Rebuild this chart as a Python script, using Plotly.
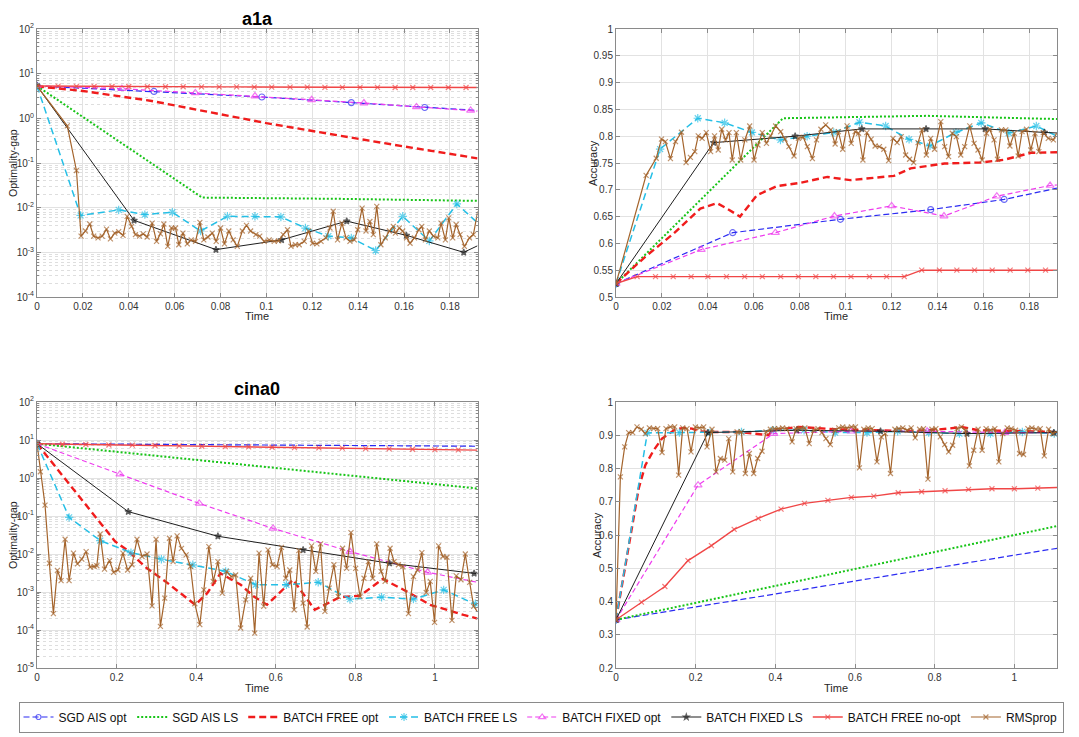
import plotly.graph_objects as go

# The page adds an 8px body margin, so the figure is 8px smaller than the window
OFF = 8
W, H = 1079 - OFF, 737 - OFF

# ------------------------------------------------------------------
# DATA
# ------------------------------------------------------------------
SERIES = ["SGD AIS opt", "SGD AIS LS", "BATCH FREE opt", "BATCH FREE LS",
          "BATCH FIXED opt", "BATCH FIXED LS", "BATCH FREE no-opt", "RMSprop"]

# ---------- a1a : optimality gap (log) ----------
A1A_GAP_SGD_OPT_T = [0, 0.051, 0.098, 0.137, 0.169, 0.192]
A1A_GAP_SGD_OPT = [5.3, 4.0, 3.0, 2.25, 1.75, 1.5]
A1A_GAP_SGD_LS_T = [0, 0.072, 0.13, 0.192]
A1A_GAP_SGD_LS = [5.3, 0.0168, 0.0158, 0.0142]
A1A_GAP_FREE_OPT_T = [0, 0.01, 0.02, 0.05, 0.1, 0.15, 0.192]
A1A_GAP_FREE_OPT = [5.2, 4.6, 4.1, 2.45, 0.78, 0.285, 0.127]
A1A_GAP_FREE_LS_T = [0, 0.019, 0.0356, 0.047, 0.059, 0.0713, 0.083, 0.095, 0.1063, 0.117,
                     0.127, 0.137, 0.1476, 0.1594, 0.171, 0.183, 0.192]
A1A_GAP_FREE_LS = [5.3, 0.0067, 0.0089, 0.0070, 0.0079, 0.0030, 0.0064, 0.0064, 0.0062, 0.0035,
                   0.0023, 0.0021, 0.0011, 0.0064, 0.0018, 0.0121, 0.0046]
A1A_GAP_FIXED_OPT_T = [0, 0.037, 0.069, 0.095, 0.1197, 0.1425, 0.1654, 0.189, 0.192]
A1A_GAP_FIXED_OPT = [5.3, 4.6, 3.7, 3.15, 2.6, 2.2, 1.8, 1.5, 1.45]
A1A_GAP_FIXED_LS_T = [0, 0.0423, 0.078, 0.1066, 0.135, 0.161, 0.186, 0.192]
A1A_GAP_FIXED_LS = [5.3, 0.0052, 0.00115, 0.0019, 0.0050, 0.0024, 0.0010, 0.0014]
A1A_NOOPT_T = [0, 0.0092, 0.0172, 0.0249, 0.0327, 0.0400, 0.0481, 0.0560, 0.0637, 0.0717,
               0.0794, 0.0870, 0.0947, 0.1023, 0.1103, 0.1178, 0.1255, 0.1331, 0.1408, 0.1484,
               0.1561, 0.1638, 0.1716, 0.1793, 0.1870, 0.192]
A1A_GAP_NOOPT = [5.3, 5.25, 5.2, 5.2, 5.15, 5.15, 5.1, 5.1, 5.1, 5.05,
                 5.05, 5.05, 5.0, 5.0, 5.0, 5.0, 4.95, 4.95, 4.95, 4.95,
                 4.9, 4.9, 4.9, 4.9, 4.9, 4.9]
A1A_RMS_T = [0, 0.0132, 0.0172, 0.0192, 0.0211, 0.0230, 0.0247, 0.0266, 0.0284, 0.0303,
             0.0320, 0.0339, 0.0356, 0.0375, 0.0393, 0.0412, 0.0429, 0.0447, 0.0463, 0.0480,
             0.0502, 0.0521, 0.0538, 0.0553, 0.0570, 0.0586, 0.0604, 0.0618, 0.0636, 0.0655,
             0.0672, 0.0691, 0.0710, 0.0727, 0.0745, 0.0764, 0.0781, 0.0800, 0.0817, 0.0836,
             0.0855, 0.0873, 0.0895, 0.0913, 0.0931, 0.0954, 0.0971, 0.0990, 0.1012, 0.1034,
             0.1053, 0.1073, 0.1092, 0.1107, 0.1126, 0.1143, 0.1165, 0.1184, 0.1201, 0.1220,
             0.1238, 0.1259, 0.1277, 0.1291, 0.1310, 0.1329, 0.1347, 0.1364, 0.1383, 0.1398,
             0.1417, 0.1434, 0.1451, 0.1466, 0.1481, 0.1499, 0.1518, 0.1536, 0.1553, 0.1562,
             0.1579, 0.1594, 0.1611, 0.1626, 0.1645, 0.1664, 0.1677, 0.1693, 0.1710, 0.1728,
             0.1747, 0.1761, 0.1780, 0.1795, 0.1812, 0.1827, 0.1844, 0.1863, 0.1885, 0.1902,
             0.1921]
A1A_GAP_RMS = [5.3, 0.68, 0.068, 0.0023, 0.0030, 0.0043, 0.0023, 0.0021, 0.0023, 0.0033,
               0.0020, 0.0027, 0.0029, 0.0024, 0.0064, 0.0038, 0.0025, 0.0023, 0.0026, 0.0022,
               0.0045, 0.00176, 0.0026, 0.0043, 0.00136, 0.0035, 0.0035, 0.00148, 0.0027, 0.00155,
               0.0019, 0.00176, 0.0047, 0.0019, 0.0022, 0.0027, 0.00176, 0.0035, 0.00155, 0.0030,
               0.0019, 0.00136, 0.0030, 0.0040, 0.0030, 0.0025, 0.0023, 0.00176, 0.0019, 0.00176,
               0.0018, 0.0025, 0.0032, 0.00136, 0.00148, 0.00148, 0.00176, 0.0030, 0.0016, 0.00155,
               0.00176, 0.0021, 0.0035, 0.0083, 0.0019, 0.0045, 0.0021, 0.00176, 0.0019, 0.0032,
               0.0098, 0.0030, 0.0049, 0.0025, 0.0107, 0.00148, 0.0021, 0.0030, 0.0038, 0.0027,
               0.0035, 0.0030, 0.0021, 0.0016, 0.0021, 0.0032, 0.0038, 0.0019, 0.0030, 0.0023,
               0.0021, 0.0045, 0.0019, 0.0059, 0.0021, 0.0042, 0.0025, 0.00136, 0.0021, 0.0025,
               0.0083]

# ---------- a1a : accuracy ----------
A1A_ACC_SGD_OPT_T = [0, 0.0508, 0.0977, 0.137, 0.169, 0.192]
A1A_ACC_SGD_OPT = [0.525, 0.62, 0.645, 0.663, 0.682, 0.703]
A1A_ACC_SGD_LS_T = [0, 0.0727, 0.1356, 0.192]
A1A_ACC_SGD_LS = [0.525, 0.8335, 0.838, 0.832]
A1A_ACC_FREE_OPT_T = [0, 0.0127, 0.025, 0.0367, 0.044, 0.0483, 0.054, 0.0614, 0.0701, 0.0803,
                      0.092, 0.102, 0.121, 0.1283, 0.143, 0.159, 0.169, 0.1807, 0.192]
A1A_ACC_FREE_OPT = [0.525, 0.575, 0.618, 0.665, 0.675, 0.665, 0.65, 0.69, 0.707, 0.713,
                    0.724, 0.718, 0.726, 0.74, 0.749, 0.751, 0.756, 0.769, 0.77]
A1A_ACC_FREE_LS_T = [0, 0.0192, 0.0356, 0.0473, 0.0592, 0.0716, 0.0832, 0.0948, 0.106, 0.1174,
                     0.1276, 0.1367, 0.148, 0.159, 0.171, 0.183, 0.192]
A1A_ACC_FREE_LS = [0.525, 0.776, 0.8335, 0.825, 0.807, 0.793, 0.80, 0.807, 0.826, 0.819,
                   0.794, 0.782, 0.807, 0.825, 0.806, 0.819, 0.80]
A1A_ACC_FIXED_OPT_T = [0, 0.0371, 0.0694, 0.0951, 0.12, 0.1428, 0.1658, 0.189, 0.192]
A1A_ACC_FIXED_OPT = [0.525, 0.5885, 0.62, 0.651, 0.67, 0.651, 0.688, 0.708, 0.709]
A1A_ACC_FIXED_LS_T = [0, 0.0425, 0.078, 0.107, 0.135, 0.1607, 0.1865, 0.192]
A1A_ACC_FIXED_LS = [0.525, 0.788, 0.80, 0.8136, 0.8136, 0.8136, 0.807, 0.806]
A1A_ACC_NOOPT = [0.525, 0.538, 0.538, 0.538, 0.538, 0.538, 0.538, 0.538, 0.538, 0.538,
                 0.538, 0.538, 0.538, 0.538, 0.538, 0.538, 0.538, 0.55, 0.55, 0.55,
                 0.55, 0.55, 0.55, 0.55, 0.55, 0.55]
A1A_ACC_RMS_T = [0, 0.0131, 0.0175, 0.0198, 0.0215, 0.0237, 0.0259, 0.0285, 0.0305, 0.0324,
                 0.0343, 0.0358, 0.0375, 0.0393, 0.0412, 0.0429, 0.0445, 0.0460, 0.0477, 0.0492,
                 0.0506, 0.0524, 0.0543, 0.0561, 0.0582, 0.0601, 0.0618, 0.0637, 0.0655, 0.0673,
                 0.0695, 0.0717, 0.0736, 0.0753, 0.0775, 0.0794, 0.0815, 0.0833, 0.0855, 0.0873,
                 0.0892, 0.0913, 0.0935, 0.0954, 0.0968, 0.0987, 0.1006, 0.1024, 0.1041, 0.1056,
                 0.1075, 0.1092, 0.1111, 0.1128, 0.1147, 0.1166, 0.1187, 0.1206, 0.1224, 0.1242,
                 0.1261, 0.1278, 0.1296, 0.1315, 0.1332, 0.1351, 0.1370, 0.1387, 0.1414, 0.1431,
                 0.1448, 0.1464, 0.1482, 0.1501, 0.1518, 0.1540, 0.1559, 0.1576, 0.1594, 0.1613,
                 0.1627, 0.1646, 0.1661, 0.1678, 0.1697, 0.1715, 0.1734, 0.1751, 0.1768, 0.1787,
                 0.1806, 0.1824, 0.1841, 0.1860, 0.1882, 0.1904, 0.1918]
A1A_ACC_RMS = [0.525, 0.727, 0.7588, 0.7944, 0.790, 0.7582, 0.790, 0.8074, 0.7506, 0.7606,
               0.7712, 0.8005, 0.796, 0.8067, 0.7712, 0.8005, 0.7743, 0.8129, 0.793, 0.8067,
               0.7556, 0.8067, 0.7556, 0.793, 0.819, 0.7556, 0.7836, 0.8067, 0.7867, 0.8005,
               0.819, 0.8086, 0.7944, 0.7805, 0.763, 0.796, 0.798, 0.7805, 0.7582, 0.793,
               0.8129, 0.821, 0.8117, 0.7855, 0.8086, 0.7756, 0.8192, 0.7867, 0.8086, 0.8055,
               0.7556, 0.8067, 0.7944, 0.7817, 0.7805, 0.7756, 0.7544, 0.796, 0.788, 0.7993,
               0.7649, 0.757, 0.7506, 0.788, 0.8117, 0.7649, 0.796, 0.7756, 0.8273, 0.7805,
               0.7618, 0.8055, 0.7993, 0.7649, 0.7805, 0.8192, 0.7867, 0.7743, 0.7556, 0.8055,
               0.813, 0.793, 0.757, 0.8117, 0.8117, 0.7817, 0.8055, 0.763, 0.8086, 0.813,
               0.7743, 0.8055, 0.7712, 0.8067, 0.796, 0.793, 0.8055]

# ---------- cina0 : optimality gap (log) ----------
CINA_GAP_SGD_OPT_T = [0, 1.107]
CINA_GAP_SGD_OPT = [8.0, 6.85]
CINA_GAP_SGD_LS_T = [0, 1.107]
CINA_GAP_SGD_LS = [8.0, 0.53]
CINA_GAP_FREE_OPT_T = [0, 0.05, 0.1, 0.15, 0.1966, 0.226, 0.25, 0.2765, 0.3227, 0.3605,
                       0.398, 0.4277, 0.461, 0.512, 0.545, 0.578, 0.6436, 0.698, 0.761, 0.812,
                       0.869, 0.921, 0.988, 1.072, 1.107]
CINA_GAP_FREE_OPT = [8.0, 1.8, 0.4, 0.09, 0.0212, 0.0128, 0.0076, 0.0042, 0.0019, 0.00093,
                     0.00046, 0.00093, 0.0031, 0.00155, 0.00076, 0.00046, 0.0021, 0.00034, 0.00073, 0.0008,
                     0.0022, 0.00115, 0.00046, 0.00025, 0.0002]
CINA_GAP_FREE_LS_T = [0, 0.0807, 0.159, 0.2361, 0.3126, 0.3916, 0.474, 0.5496, 0.6268, 0.7067,
                      0.7865, 0.866, 0.946, 1.022, 1.1016, 1.107]
CINA_GAP_FREE_LS = [8.0, 0.092, 0.0225, 0.0109, 0.0073, 0.0052, 0.0035, 0.00155, 0.00155, 0.0018,
                    0.00065, 0.00073, 0.00065, 0.00114, 0.00049, 0.00045]
CINA_GAP_FIXED_OPT_T = [0, 0.2084, 0.4076, 0.5932, 0.7865, 0.9815, 1.107]
CINA_GAP_FIXED_OPT = [8.0, 1.26, 0.215, 0.047, 0.0116, 0.0033, 0.0018]
CINA_GAP_FIXED_LS_T = [0, 0.2294, 0.4546, 0.6688, 0.8857, 1.0985, 1.107]
CINA_GAP_FIXED_LS = [8.0, 0.13, 0.0293, 0.0128, 0.0057, 0.0031, 0.0030]
CINA_NOOPT_T = [0, 0.0639, 0.1227, 0.1807, 0.2395, 0.2966, 0.3571, 0.4143, 0.4731, 0.5319,
                0.5908, 0.6471, 0.7084, 0.7672, 0.8260, 0.8849, 0.9437, 1.0000, 1.0588, 1.107]
CINA_GAP_NOOPT = [8.0, 7.75, 7.6, 7.4, 7.3, 7.15, 7.0, 6.85, 6.7, 6.6,
                  6.45, 6.3, 6.2, 6.1, 5.95, 5.85, 5.7, 5.6, 5.5, 5.4]
CINA_GAP_RMS_T = [0, 0.0084, 0.0202, 0.0311, 0.0412, 0.0513, 0.0605, 0.0706, 0.0807, 0.0916,
                  0.1017, 0.1126, 0.1235, 0.1336, 0.1437, 0.1504, 0.1588, 0.1697, 0.1824, 0.1924,
                  0.2034, 0.2160, 0.2277, 0.2387, 0.2513, 0.2639, 0.2765, 0.2891, 0.2992, 0.3101,
                  0.3210, 0.3328, 0.3420, 0.3521, 0.3630, 0.3748, 0.3857, 0.3966, 0.4092, 0.4193,
                  0.4319, 0.4429, 0.4546, 0.4655, 0.4765, 0.4882, 0.4992, 0.5118, 0.5244, 0.5370,
                  0.5471, 0.5580, 0.5697, 0.5806, 0.5915, 0.6033, 0.6142, 0.6251, 0.6352, 0.6462,
                  0.6579, 0.6688, 0.6789, 0.6899, 0.7008, 0.7126, 0.7235, 0.7344, 0.7462, 0.7571,
                  0.7680, 0.7781, 0.7890, 0.8008, 0.8117, 0.8218, 0.8328, 0.8437, 0.8537, 0.8647,
                  0.8748, 0.8873, 0.8974, 0.9083, 0.9193, 0.9336, 0.9461, 0.9563, 0.9672, 0.9781,
                  0.9882, 0.9991, 1.0092, 1.0201, 1.0302, 1.0428, 1.0537, 1.0655, 1.0764, 1.0873,
                  1.0974, 1.107]
CINA_GAP_RMS = [8.0, 1.46, 0.194, 0.0057, 0.00027, 0.0037, 0.0020, 0.0244, 0.0020, 0.0105,
                0.0055, 0.0073, 0.0116, 0.0045, 0.0047, 0.0049, 0.0336, 0.0040, 0.0067, 0.0033,
                0.0038, 0.0105, 0.0038, 0.0052, 0.0244, 0.0086, 0.0100, 0.00043, 0.0244, 0.000124,
                0.00069, 0.0259, 0.0063, 0.0299, 0.0141, 0.0095, 0.0047, 0.00049, 0.000138, 0.00114,
                0.0157, 0.0019, 0.0063, 0.00093, 0.0035, 0.00255, 0.0028, 0.000113, 0.00062, 0.0023,
                0.000083, 0.0105, 0.00042, 0.0128, 0.0052, 0.0047, 0.0150, 0.0023, 0.0038, 0.00034,
                0.0123, 0.00051, 0.00012, 0.0163, 0.0035, 0.0184, 0.00031, 0.00126, 0.0052, 0.00076,
                0.0142, 0.0042, 0.0365, 0.0042, 0.00076, 0.0023, 0.0063, 0.0023, 0.0184, 0.0035,
                0.0019, 0.0142, 0.0063, 0.0052, 0.0047, 0.00027, 0.00255, 0.0038, 0.0109, 0.00097,
                0.0019, 0.000158, 0.0163, 0.0086, 0.0082, 0.000179, 0.00266, 0.0021, 0.0100, 0.0018,
                0.00042, 0.00030]

# ---------- cina0 : accuracy ----------
CINA_ACC_SGD_OPT_T = [0, 1.107]
CINA_ACC_SGD_OPT = [0.345, 0.56]
CINA_ACC_SGD_LS_T = [0, 1.107]
CINA_ACC_SGD_LS = [0.345, 0.627]
CINA_ACC_FREE_OPT_T = [0, 0.031, 0.057, 0.0736, 0.0946, 0.1155, 0.132, 0.149, 0.17, 0.191,
                       0.2075, 0.241, 0.308, 0.358, 0.383, 0.392, 0.459, 0.55, 0.65, 0.75,
                       0.835, 0.867, 0.91, 1.107]
CINA_ACC_FREE_OPT = [0.345, 0.555, 0.74, 0.81, 0.855, 0.89, 0.905, 0.918, 0.922, 0.92,
                     0.912, 0.91, 0.91, 0.902, 0.90, 0.915, 0.925, 0.918, 0.915, 0.912,
                     0.92, 0.925, 0.915, 0.91]
CINA_ACC_FREE_LS_T = [0, 0.0787, 0.159, 0.236, 0.315, 0.395, 0.472, 0.55, 0.63, 0.707,
                      0.785, 0.862, 0.94, 1.02, 1.1, 1.107]
CINA_ACC_FREE_LS = [0.345, 0.907, 0.908, 0.908, 0.91, 0.915, 0.915, 0.908, 0.908, 0.912,
                    0.908, 0.905, 0.905, 0.91, 0.905, 0.905]
CINA_ACC_FIXED_OPT_T = [0, 0.206, 0.396, 0.59, 0.781, 0.976, 1.107]
CINA_ACC_FIXED_OPT = [0.345, 0.75, 0.905, 0.912, 0.912, 0.908, 0.908]
CINA_ACC_FIXED_LS_T = [0, 0.231, 0.454, 0.664, 0.881, 1.099, 1.107]
CINA_ACC_FIXED_LS = [0.345, 0.908, 0.915, 0.912, 0.905, 0.908, 0.908]
CINA_ACC_NOOPT = [0.345, 0.398, 0.445, 0.523, 0.568, 0.617, 0.65, 0.678, 0.695, 0.704,
                  0.713, 0.717, 0.727, 0.73, 0.733, 0.737, 0.739, 0.739, 0.741, 0.743]
CINA_ACC_RMS_T = [0, 0.011, 0.0218, 0.0318, 0.0418, 0.0527, 0.0636, 0.0736, 0.0837, 0.0946,
                  0.1046, 0.1155, 0.1255, 0.1364, 0.1473, 0.1573, 0.1674, 0.1782, 0.1883, 0.1992,
                  0.2092, 0.2201, 0.2285, 0.241, 0.251, 0.262, 0.273, 0.283, 0.293, 0.304,
                  0.3146, 0.3247, 0.3347, 0.3456, 0.3556, 0.3665, 0.3766, 0.3874, 0.398, 0.408,
                  0.418, 0.429, 0.442, 0.452, 0.463, 0.474, 0.485, 0.496, 0.507, 0.517,
                  0.527, 0.538, 0.549, 0.559, 0.569, 0.58, 0.591, 0.601, 0.611, 0.622,
                  0.633, 0.643, 0.655, 0.666, 0.676, 0.689, 0.70, 0.71, 0.72, 0.731,
                  0.741, 0.751, 0.762, 0.772, 0.783, 0.793, 0.803, 0.814, 0.825, 0.835,
                  0.845, 0.856, 0.867, 0.877, 0.887, 0.898, 0.909, 0.919, 0.929, 0.94,
                  0.951, 0.961, 0.971, 0.982, 0.992, 1.003, 1.013, 1.023, 1.034, 1.044,
                  1.054, 1.065, 1.075, 1.086, 1.096, 1.107]
CINA_ACC_RMS = [0.345, 0.775, 0.865, 0.908, 0.908, 0.925, 0.918, 0.905, 0.922, 0.92,
                0.92, 0.848, 0.92, 0.925, 0.925, 0.78, 0.922, 0.92, 0.85, 0.925,
                0.922, 0.925, 0.865, 0.918, 0.79, 0.83, 0.825, 0.89, 0.79, 0.91,
                0.91, 0.785, 0.845, 0.785, 0.83, 0.852, 0.91, 0.918, 0.92, 0.92,
                0.922, 0.92, 0.88, 0.92, 0.92, 0.922, 0.875, 0.915, 0.92, 0.908,
                0.89, 0.872, 0.915, 0.922, 0.925, 0.922, 0.925, 0.925, 0.802, 0.918,
                0.922, 0.92, 0.82, 0.895, 0.905, 0.785, 0.918, 0.92, 0.922, 0.915,
                0.922, 0.892, 0.918, 0.92, 0.768, 0.918, 0.92, 0.895, 0.872, 0.85,
                0.87, 0.92, 0.925, 0.915, 0.808, 0.855, 0.918, 0.855, 0.92, 0.915,
                0.92, 0.82, 0.905, 0.922, 0.92, 0.915, 0.845, 0.842, 0.92, 0.922,
                0.918, 0.92, 0.838, 0.918, 0.905, 0.91]

# tick labels
A1A_XTICKS = [0, 0.02, 0.04, 0.06, 0.08, 0.1, 0.12, 0.14, 0.16, 0.18]
A1A_XTICKTEXT = ["0", "0.02", "0.04", "0.06", "0.08", "0.1", "0.12", "0.14", "0.16", "0.18"]
CINA_XTICKS = [0, 0.2, 0.4, 0.6, 0.8, 1.0]
CINA_XTICKTEXT = ["0", "0.2", "0.4", "0.6", "0.8", "1"]
A1A_ACC_TICKS = [0.5, 0.55, 0.6, 0.65, 0.7, 0.75, 0.8, 0.85, 0.9, 0.95, 1.0]
A1A_ACC_TICKTEXT = ["0.5", "0.55", "0.6", "0.65", "0.7", "0.75", "0.8", "0.85", "0.9", "0.95", "1"]
CINA_ACC_TICKS = [0.2, 0.3, 0.4, 0.5, 0.6, 0.7, 0.8, 0.9, 1.0]
CINA_ACC_TICKTEXT = ["0.2", "0.3", "0.4", "0.5", "0.6", "0.7", "0.8", "0.9", "1"]
A1A_GAP_EXP = [-4, -3, -2, -1, 0, 1, 2]
CINA_GAP_EXP = [-5, -4, -3, -2, -1, 0, 1, 2]

# ------------------------------------------------------------------
PANELS = [
    ("x", "y", {
        "SGD AIS opt": (A1A_GAP_SGD_OPT_T, A1A_GAP_SGD_OPT),
        "SGD AIS LS": (A1A_GAP_SGD_LS_T, A1A_GAP_SGD_LS),
        "BATCH FREE opt": (A1A_GAP_FREE_OPT_T, A1A_GAP_FREE_OPT),
        "BATCH FREE LS": (A1A_GAP_FREE_LS_T, A1A_GAP_FREE_LS),
        "BATCH FIXED opt": (A1A_GAP_FIXED_OPT_T, A1A_GAP_FIXED_OPT),
        "BATCH FIXED LS": (A1A_GAP_FIXED_LS_T, A1A_GAP_FIXED_LS),
        "BATCH FREE no-opt": (A1A_NOOPT_T, A1A_GAP_NOOPT),
        "RMSprop": (A1A_RMS_T, A1A_GAP_RMS)}),
    ("x2", "y2", {
        "SGD AIS opt": (A1A_ACC_SGD_OPT_T, A1A_ACC_SGD_OPT),
        "SGD AIS LS": (A1A_ACC_SGD_LS_T, A1A_ACC_SGD_LS),
        "BATCH FREE opt": (A1A_ACC_FREE_OPT_T, A1A_ACC_FREE_OPT),
        "BATCH FREE LS": (A1A_ACC_FREE_LS_T, A1A_ACC_FREE_LS),
        "BATCH FIXED opt": (A1A_ACC_FIXED_OPT_T, A1A_ACC_FIXED_OPT),
        "BATCH FIXED LS": (A1A_ACC_FIXED_LS_T, A1A_ACC_FIXED_LS),
        "BATCH FREE no-opt": (A1A_NOOPT_T, A1A_ACC_NOOPT),
        "RMSprop": (A1A_ACC_RMS_T, A1A_ACC_RMS)}),
    ("x3", "y3", {
        "SGD AIS opt": (CINA_GAP_SGD_OPT_T, CINA_GAP_SGD_OPT),
        "SGD AIS LS": (CINA_GAP_SGD_LS_T, CINA_GAP_SGD_LS),
        "BATCH FREE opt": (CINA_GAP_FREE_OPT_T, CINA_GAP_FREE_OPT),
        "BATCH FREE LS": (CINA_GAP_FREE_LS_T, CINA_GAP_FREE_LS),
        "BATCH FIXED opt": (CINA_GAP_FIXED_OPT_T, CINA_GAP_FIXED_OPT),
        "BATCH FIXED LS": (CINA_GAP_FIXED_LS_T, CINA_GAP_FIXED_LS),
        "BATCH FREE no-opt": (CINA_NOOPT_T, CINA_GAP_NOOPT),
        "RMSprop": (CINA_GAP_RMS_T, CINA_GAP_RMS)}),
    ("x4", "y4", {
        "SGD AIS opt": (CINA_ACC_SGD_OPT_T, CINA_ACC_SGD_OPT),
        "SGD AIS LS": (CINA_ACC_SGD_LS_T, CINA_ACC_SGD_LS),
        "BATCH FREE opt": (CINA_ACC_FREE_OPT_T, CINA_ACC_FREE_OPT),
        "BATCH FREE LS": (CINA_ACC_FREE_LS_T, CINA_ACC_FREE_LS),
        "BATCH FIXED opt": (CINA_ACC_FIXED_OPT_T, CINA_ACC_FIXED_OPT),
        "BATCH FIXED LS": (CINA_ACC_FIXED_LS_T, CINA_ACC_FIXED_LS),
        "BATCH FREE no-opt": (CINA_NOOPT_T, CINA_ACC_NOOPT),
        "RMSprop": (CINA_ACC_RMS_T, CINA_ACC_RMS)}),
]

STYLE = {
    "SGD AIS opt": dict(color="#2b2bf2", dash="6px,3px", width=1.2, symbol="circle-open", msize=6),
    "SGD AIS LS": dict(color="#17c417", dash="2px,2px", width=2.0, symbol=None, msize=0),
    "BATCH FREE opt": dict(color="#f01c1c", dash="7px,4px", width=2.4, symbol=None, msize=0),
    "BATCH FREE LS": dict(color="#25bfe6", dash="7px,4px", width=1.5, symbol="asterisk-open", msize=7),
    "BATCH FIXED opt": dict(color="#ee3cee", dash="5px,3px", width=1.2, symbol="triangle-up-open", msize=7),
    "BATCH FIXED LS": dict(color="#1e1e1e", dash="solid", width=1.0, symbol="star", msize=5),
    "BATCH FREE no-opt": dict(color="#f04646", dash="solid", width=1.4, symbol="x-thin-open", msize=5),
    "RMSprop": dict(color="#a4642c", dash="solid", width=1.2, symbol="x-thin-open", msize=5),
}

FONT = "Liberation Sans, Arial, Helvetica, sans-serif"

fig = go.Figure()
for pi, (xa, ya, data) in enumerate(PANELS):
    for name in SERIES:
        t, v = data[name]
        st = STYLE[name]
        kw = dict(x=t, y=v, xaxis=xa, yaxis=ya, name=name, legendgroup=name,
                  showlegend=(pi == 0),
                  line=dict(color=st["color"], width=st["width"], dash=st["dash"]))
        if st["symbol"]:
            n = len(t)
            kw["mode"] = "lines+markers"
            kw["marker"] = dict(symbol=st["symbol"], size=[st["msize"]] * (n - 1) + [0],
                                color=st["color"],
                                line=dict(color=st["color"], width=1.2))
        else:
            kw["mode"] = "lines"
        fig.add_trace(go.Scatter(**kw))


def px_x(p):
    return (p - OFF) / W


def px_y(p):
    return 1 - (p - OFF) / H


XL = [px_x(37), px_x(477.5)]
XR = [px_x(616), px_x(1057)]
YT = [px_y(297), px_y(29)]
YB = [px_y(668), px_y(402)]

AX = dict(showline=True, linecolor="#8a8a8a", linewidth=1, mirror="ticks",
          ticks="inside", ticklen=4, tickcolor="#8a8a8a", showgrid=True,
          gridcolor="#e2e2e2", gridwidth=1, zeroline=False,
          tickfont=dict(family=FONT, size=10, color="#333333"), tickmode="array")


def minor_log(lo, hi):
    vals = []
    for e in range(lo, hi):
        for k in range(2, 10):
            vals.append(k * 10.0 ** e)
    return dict(tickmode="array", tickvals=vals, ticks="inside", ticklen=2,
                tickcolor="#8a8a8a", showgrid=True, gridcolor="#dedede",
                griddash="dot", gridwidth=1)


def exp_text(exps):
    return ["10<sup>%d</sup>" % e for e in exps]


fig.update_layout(
    width=W, height=H, margin=dict(l=0, r=0, t=0, b=0, autoexpand=False),
    paper_bgcolor="white", plot_bgcolor="white",
    font=dict(family=FONT, size=10, color="#262626"),
    xaxis=dict(AX, domain=XL, anchor="y", range=[0, 0.192],
               tickvals=A1A_XTICKS, ticktext=A1A_XTICKTEXT),
    yaxis=dict(AX, domain=YT, anchor="x", type="log", range=[-4, 2],
               tickvals=[10.0 ** e for e in A1A_GAP_EXP], ticktext=exp_text(A1A_GAP_EXP),
               minor=minor_log(-4, 2)),
    xaxis2=dict(AX, domain=XR, anchor="y2", range=[0, 0.192],
                tickvals=A1A_XTICKS, ticktext=A1A_XTICKTEXT),
    yaxis2=dict(AX, domain=YT, anchor="x2", range=[0.5, 1.0],
                tickvals=A1A_ACC_TICKS, ticktext=A1A_ACC_TICKTEXT),
    xaxis3=dict(AX, domain=XL, anchor="y3", range=[0, 1.107],
                tickvals=CINA_XTICKS, ticktext=CINA_XTICKTEXT),
    yaxis3=dict(AX, domain=YB, anchor="x3", type="log", range=[-5, 2],
                tickvals=[10.0 ** e for e in CINA_GAP_EXP], ticktext=exp_text(CINA_GAP_EXP),
                minor=minor_log(-5, 2)),
    xaxis4=dict(AX, domain=XR, anchor="y4", range=[0, 1.107],
                tickvals=CINA_XTICKS, ticktext=CINA_XTICKTEXT),
    yaxis4=dict(AX, domain=YB, anchor="x4", range=[0.2, 1.0],
                tickvals=CINA_ACC_TICKS, ticktext=CINA_ACC_TICKTEXT),
    legend=dict(orientation="h", x=px_x(541), xanchor="center", y=px_y(717), yanchor="middle",
                bordercolor="#8a8a8a", borderwidth=1, bgcolor="white",
                font=dict(family=FONT, size=12, color="#111111"),
                itemwidth=30, tracegroupgap=0),
)

ann = []


def add_text(text, x, y, size, angle=0, bold=False):
    ann.append(dict(text=("<b>%s</b>" % text) if bold else text, xref="paper", yref="paper",
                    x=px_x(x), y=px_y(y), xanchor="center", yanchor="middle",
                    showarrow=False, textangle=angle,
                    font=dict(family=FONT, size=size, color="#000000" if bold else "#262626")))


add_text("a1a", 257, 19, 18, bold=True)
add_text("cina0", 257, 389, 18, bold=True)
add_text("Time", 257, 316, 11)
add_text("Time", 836, 316, 11)
add_text("Time", 257, 688, 11)
add_text("Time", 836, 688, 11)
add_text("Optimality-gap", 13, 163, 10.5, angle=-90)
add_text("Optimality-gap", 13, 535, 10.5, angle=-90)
add_text("Accuracy", 593, 163, 11, angle=-90)
add_text("Accuracy", 597, 535, 11, angle=-90)
fig.update_layout(annotations=ann)

fig.write_html("out.html")
